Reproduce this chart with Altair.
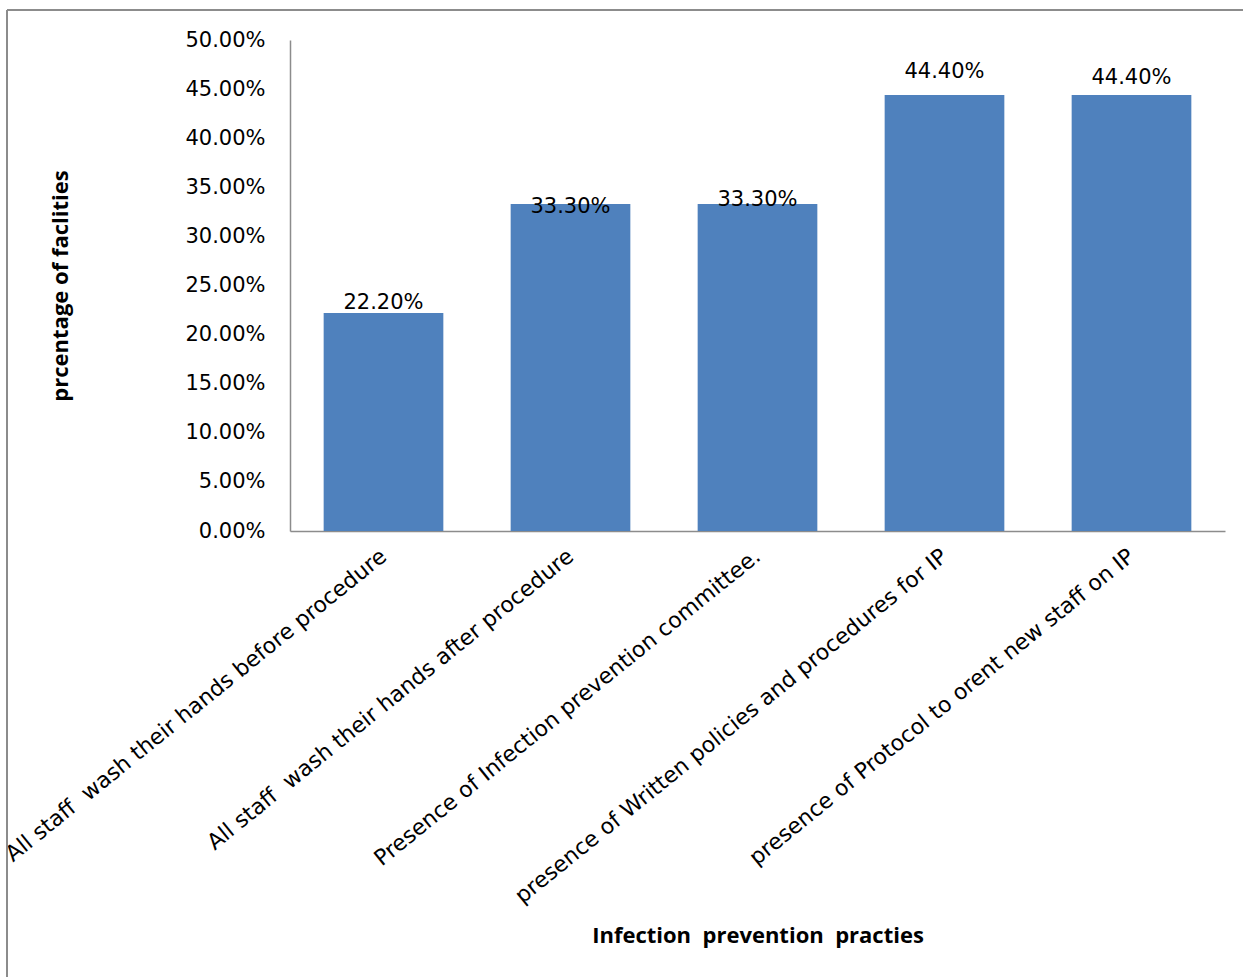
import altair as alt
import pandas as pd

NBSP = "\u00a0"

# Infection prevention practices and share of facilities
practices = [
    "All staff" + NBSP + NBSP + "wash their hands before procedure",
    "All staff" + NBSP + NBSP + "wash their hands after procedure",
    "Presence of Infection prevention committee.",
    "presence of Written policies and procedures for IP",
    "presence of Protocol to orent new staff on IP",
]
shares = [0.222, 0.333, 0.333, 0.444, 0.444]
# vertical nudge (px) of each value label relative to its bar top
label_nudge = [-10, 3, -4, -23, -17]

df = pd.DataFrame({"practice": practices, "share": shares, "nudge": label_nudge})

FONT = "DejaVu Sans"
BAR = "#4F81BD"
AXIS_GREY = "#8C8C8C"

x_enc = alt.X(
    "practice:N",
    sort=practices,
    scale=alt.Scale(paddingInner=0.36, paddingOuter=0.18),
    axis=alt.Axis(
        title="Infection" + NBSP + NBSP + "prevention" + NBSP + NBSP + "practies",
        titleFont="Open Sans",
        titleFontSize=22,
        titleFontWeight="bold",
        titleColor="black",
        titleBaseline="middle",
        titleY=404,
        labelAngle=-39,
        labelAlign="right",
        labelBaseline="middle",
        labelPadding=22,
        labelFont=FONT,
        labelFontSize=22,
        labelColor="black",
        labelLimit=0,
        ticks=False,
        domainColor=AXIS_GREY,
        domainWidth=1.5,
    ),
)

y_enc = alt.Y(
    "share:Q",
    scale=alt.Scale(domain=[0, 0.5], nice=False),
    axis=alt.Axis(
        title="prcentage of faclities",
        titleFont="Open Sans",
        titleFontSize=22,
        titleFontWeight="bold",
        titleColor="black",
        titleX=-230,
        titleBaseline="middle",
        values=[i * 0.05 for i in range(11)],
        format=".2%",
        labelFont=FONT,
        labelFontSize=21,
        labelColor="black",
        labelPadding=25,
        ticks=False,
        grid=False,
        domainColor=AXIS_GREY,
        domainWidth=1.5,
    ),
)

bars = alt.Chart(df).mark_bar(color=BAR).encode(x=x_enc, y=y_enc)

labels = [
    alt.Chart(df)
    .transform_filter(alt.datum.practice == p)
    .mark_text(font=FONT, fontSize=21, color="black", baseline="middle", dy=n)
    .encode(x=alt.X("practice:N", sort=practices), y="share:Q", text=alt.Text("share:Q", format=".2%"))
    for p, n in zip(practices, label_nudge)
]

# thin outer frame of the chart
frame_left = alt.Chart(df).mark_rule(color="#8C8C8C", strokeWidth=1.5).encode(
    x=alt.value(-283), y=alt.value(-30), y2=alt.value(960)
)
frame_top = alt.Chart(df).mark_rule(color="#8C8C8C", strokeWidth=1.5).encode(
    x=alt.value(-283), x2=alt.value(980), y=alt.value(-30)
)

chart = (
    alt.layer(bars, *labels, frame_left, frame_top)
    .properties(
        width=935,
        height=491,
        autosize=alt.AutoSizeParams(type="none"),
        padding={"left": 290, "top": 40, "right": 18, "bottom": 446},
        background="white",
    )
    .configure_view(stroke=None)
)

chart.save("out.html", embed_options={"renderer": "svg", "actions": False})
